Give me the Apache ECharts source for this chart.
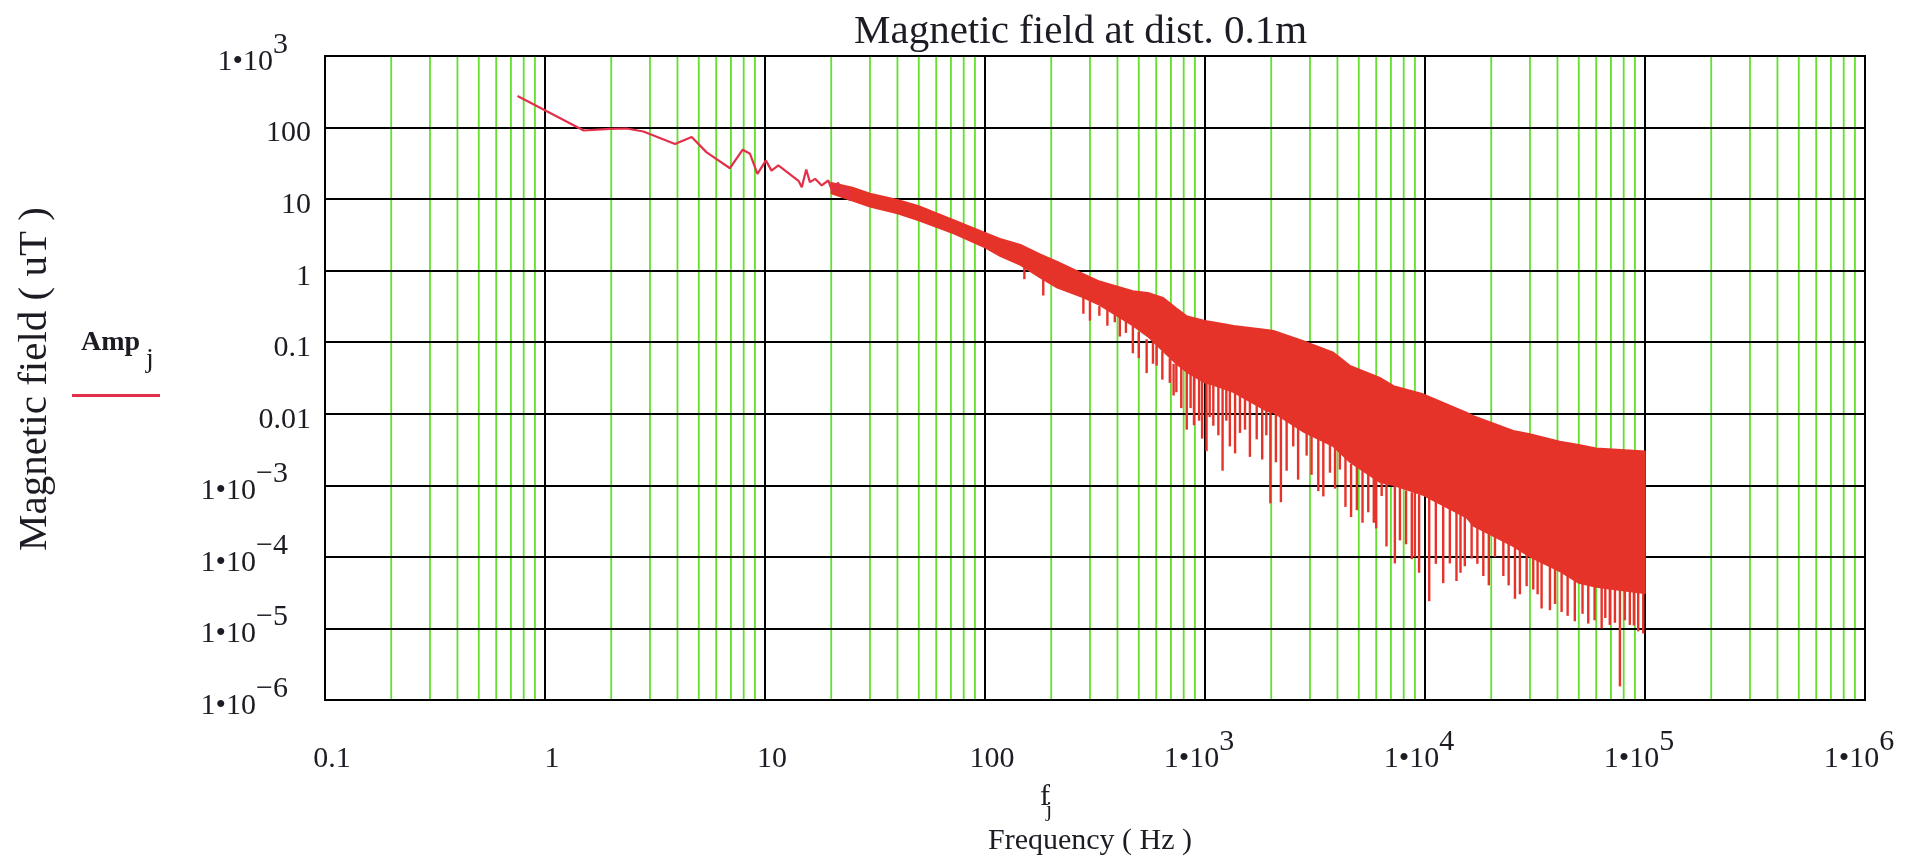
<!DOCTYPE html>
<html>
<head>
<meta charset="utf-8">
<script src="https://cdn.jsdelivr.net/npm/echarts@6/dist/echarts.min.js"></script>
<style>
html,body{margin:0;padding:0;background:#fff;}
#chart{width:1921px;height:861px;}
</style>
</head>
<body>
<div id="chart"></div>
<script>
// ---- tick labels ----
const xTickExp = [-1, 0, 1, 2, 3, 4, 5, 6];
const xTickLabels = [['0.1',''],['1',''],['10',''],['100',''],['1•10','3'],['1•10','4'],['1•10','5'],['1•10','6']];
const yTickExp = [-6, -5, -4, -3, -2, -1, 0, 1, 2, 3];
const yTickLabels = [['1•10','−6'],['1•10','−5'],['1•10','−4'],['1•10','−3'],['0.01',''],['0.1',''],['1',''],['10',''],['100',''],['1•10','3']];
const minorMultipliers = [2, 3, 4, 5, 6, 7, 8, 9];
const minorDecades = [0.1, 1, 10, 100, 1000, 10000, 100000];

// ---- low-frequency trace (Hz, uT) ----
const lowF = [0.75, 1.5, 1.97, 2.35, 2.8, 3.9, 4.64, 5.43, 6.93, 7.92, 8.55, 9.24, 10.1, 10.7, 11.5, 14.2, 14.7, 15.4, 16.0, 16.9, 18.1, 19.4, 20.3, 21.5, 22.5, 23.5, 24.3];
const lowA = [276, 91, 96, 97, 88, 59, 74, 45, 27, 49, 43, 22.5, 34.7, 25, 29.5, 18, 14.7, 25.9, 17.3, 19.2, 15.5, 18.2, 12.5, 17, 11, 15, 9.5];

// ---- dense band: upper and lower envelope (Hz, uT) ----
const bandF   = [20, 25, 30, 40, 50, 72, 100, 117, 145, 178, 212, 280, 332, 470, 550, 645, 740, 830, 1000, 1100, 1350, 1900, 2050, 2800, 3830, 4560, 6240, 7200, 9700, 15500, 16600, 25200, 30000, 41000, 50000, 60000, 100000];
const bandTop = [17, 14.5, 12, 9.8, 8.0, 5.1, 3.4, 2.8, 2.3, 1.7, 1.35, 0.9, 0.71, 0.52, 0.49, 0.42, 0.3, 0.23, 0.2, 0.19, 0.17, 0.15, 0.145, 0.104, 0.072, 0.047, 0.032, 0.0245, 0.019, 0.0104, 0.0093, 0.0058, 0.0052, 0.0041, 0.0037, 0.0033, 0.0030];
const bandBot = [12, 9.5, 7.8, 6.3, 5.0, 3.3, 2.1, 1.6, 1.2, 0.8, 0.58, 0.42, 0.33, 0.17, 0.12, 0.075, 0.05, 0.038, 0.027, 0.025, 0.020, 0.011, 0.0104, 0.0056, 0.0035, 0.0021, 0.0011, 0.0010, 0.00074, 0.00035, 0.00027, 0.00014, 0.00010, 0.000063, 0.000043, 0.000038, 0.000031];

// ---- downward spikes (Hz, from uT, to uT) ----
const spikeF = [
  151, 184, 280, 300, 331, 360, 389, 410, 437, 470,
  500, 543, 580, 603, 640, 692, 720, 741, 780, 826,
  860, 891, 940, 970, 1016, 1050, 1091, 1150, 1202, 1250,
  1297, 1370, 1442, 1520, 1600, 1718, 1820, 1900, 1982, 2100,
  2213, 2350, 2518, 2650, 2897, 3050, 3273, 3450, 3698, 3900,
  4102, 4350, 4613, 4900, 5200, 5521, 5850, 6000, 6353, 6683,
  7295, 7691, 8200, 8710, 8995, 9400, 10450, 11200, 12100, 12970,
  13900, 14500, 15170, 16290, 17300, 18410, 19500, 20800, 22700, 24000,
  25640, 27000, 28970, 31050, 32500, 33880, 36980, 39000, 41780, 44500,
  47970, 52000, 55210, 59000, 63530, 66000, 69180, 73000, 76910, 81000,
  85310, 89000, 93110, 98170];
const spikeHi = [
  1.1, 0.8, 0.45, 0.38, 0.32, 0.3, 0.3, 0.25, 0.2, 0.17,
  0.14, 0.11, 0.1, 0.09, 0.075, 0.06, 0.05, 0.05, 0.045, 0.04,
  0.038, 0.035, 0.032, 0.03, 0.027, 0.026, 0.025, 0.024, 0.023, 0.022,
  0.021, 0.02, 0.019, 0.018, 0.016, 0.015, 0.013, 0.012, 0.012, 0.01,
  0.009, 0.008, 0.007, 0.0065, 0.0055, 0.005, 0.0045, 0.0042, 0.0037, 0.0033,
  0.003, 0.0025, 0.002, 0.0019, 0.0017, 0.0015, 0.0013, 0.0012, 0.0011, 0.0011,
  0.001, 0.001, 0.00085, 0.0008, 0.0008, 0.00075, 0.0007, 0.0006, 0.00055, 0.0005,
  0.00045, 0.00042, 0.0004, 0.0003, 0.00028, 0.00025, 0.00024, 0.00022, 0.00018, 0.00016,
  0.00014, 0.00013, 0.00011, 0.0001, 0.0001, 0.00009, 0.00008, 0.00007, 0.00006, 0.000055,
  0.00005, 0.000045, 0.000042, 0.00004, 0.000038, 0.000037, 0.000037, 0.000036, 0.000035, 0.000034,
  0.000033, 0.000033, 0.000032, 0.000031];
const spikeLo = [
  0.76, 0.45, 0.25, 0.2, 0.234, 0.17, 0.19, 0.12, 0.135, 0.07,
  0.06, 0.037, 0.05, 0.047, 0.03, 0.027, 0.018, 0.020, 0.012, 0.006,
  0.012, 0.0069, 0.008, 0.0045, 0.003, 0.009, 0.0068, 0.005, 0.0016, 0.008,
  0.0035, 0.0028, 0.0054, 0.006, 0.0025, 0.0044, 0.0023, 0.005, 0.00056, 0.0021,
  0.00058, 0.0016, 0.0035, 0.0012, 0.0026, 0.0014, 0.00083, 0.0007, 0.0015, 0.0009,
  0.00166, 0.0005, 0.00036, 0.00045, 0.0003, 0.00042, 0.0003, 0.00025, 0.00071, 0.00014,
  0.000081, 0.00017, 0.00015, 0.000093, 0.0001, 0.00006, 0.000024, 0.00008, 0.000043, 0.000081,
  0.000046, 0.00006, 0.000074, 0.000095, 0.00008, 0.000054, 0.00004, 0.0001, 0.000054, 0.00004,
  0.000026, 0.00003, 0.000039, 0.000035, 0.00003, 0.000019, 0.000018, 0.000022, 0.000017, 0.000015,
  0.0000126, 0.000016, 0.0000117, 0.000013, 0.00001, 0.000014, 0.0000112, 0.000012, 0.00000155, 0.000013,
  0.0000112, 0.000011, 0.0000091, 0.0000085];

const SERIF = "'Liberation Serif','Times New Roman',serif";
const RED = '#e6332a';
const LINE = '#e2304b';
const GREEN = '#62e02c';
const TXT = '#1c1c24';
const X_MIN = 0.1, X_MAX = 1e6, Y_MIN = 1e-6, Y_MAX = 1e3;

const minorX = [];
minorDecades.forEach(d => minorMultipliers.forEach(k => minorX.push(k * d)));

function makeFormatter(exps, labels) {
  return function (v) {
    const e = Math.round(Math.log10(v));
    const i = exps.indexOf(e);
    if (i < 0) return '';
    const m = labels[i][0], s = labels[i][1];
    return s ? '{m2|' + m + '}{s|' + s + '}' : '{m|' + m + '}';
  };
}

const chart = echarts.init(document.getElementById('chart'), null, {renderer: 'canvas'});
chart.setOption({
  backgroundColor: '#ffffff',
  animation: false,
  title: {
    text: 'Magnetic field at dist. 0.1m',
    left: 854, top: 12, padding: 0,
    textStyle: {fontFamily: SERIF, fontSize: 41, fontWeight: 'normal', color: TXT}
  },
  legend: {
    data: [{name: 'Amp', icon: 'rect', itemStyle: {color: LINE}}],
    left: 72, top: 394, padding: 0,
    itemWidth: 88, itemHeight: 3,
    formatter: function () { return ''; },
    selectedMode: false
  },
  grid: {
    left: 325, right: 56, top: 56, bottom: 161,
    show: true, borderColor: '#000', borderWidth: 2
  },
  xAxis: {
    type: 'log', logBase: 10, min: X_MIN, max: X_MAX, z: 2,
    axisLine: {show: true, lineStyle: {color: '#000', width: 2}},
    axisTick: {show: false},
    splitLine: {show: true, lineStyle: {color: '#000', width: 2}},
    axisLabel: {
      show: true, showMinLabel: true, showMaxLabel: true,
      margin: 53, verticalAlign: 'middle',
      formatter: makeFormatter(xTickExp, xTickLabels),
      rich: {
        m:  {fontFamily: SERIF, fontSize: 30, lineHeight: 30, color: TXT, padding: [12, 0, 0, 14]},
        m2: {fontFamily: SERIF, fontSize: 30, lineHeight: 30, color: TXT, padding: [12, 0, 0, 0]},
        s:  {fontFamily: SERIF, fontSize: 30, lineHeight: 30, color: TXT, padding: [0, 12, 22, 0]}
      }
    }
  },
  yAxis: {
    type: 'log', logBase: 10, min: Y_MIN, max: Y_MAX, z: 2,
    axisLine: {show: true, lineStyle: {color: '#000', width: 2}},
    axisTick: {show: false},
    splitLine: {show: true, lineStyle: {color: '#000', width: 2}},
    axisLabel: {
      show: true, showMinLabel: true, showMaxLabel: true,
      margin: 14, verticalAlign: 'middle',
      formatter: makeFormatter(yTickExp, yTickLabels),
      rich: {
        m:  {fontFamily: SERIF, fontSize: 30, lineHeight: 30, color: TXT, padding: [12, 0, 0, 0]},
        m2: {fontFamily: SERIF, fontSize: 30, lineHeight: 30, color: TXT, padding: [12, 0, 0, 0]},
        s:  {fontFamily: SERIF, fontSize: 30, lineHeight: 30, color: TXT, padding: [0, 23, 22, 0]}
      }
    }
  },
  graphic: [
    {type: 'text', x: 35, y: 379, rotation: Math.PI / 2, silent: true,
     style: {text: 'Magnetic field ( uT )', font: '41px ' + SERIF, fill: TXT, align: 'center', verticalAlign: 'middle'}},
    {type: 'text', x: 81, y: 343, silent: true,
     style: {text: '{a|Amp}{j|j}', fill: TXT, align: 'left', verticalAlign: 'middle',
       rich: {a: {fontFamily: SERIF, fontSize: 28, fontWeight: 'bold', lineHeight: 28, fill: TXT},
              j: {fontFamily: SERIF, fontSize: 28, lineHeight: 28, fill: TXT, padding: [34, 0, 0, 6]}}}},
    {type: 'text', x: 1040, y: 797, silent: true,
     style: {text: 'f', font: '30px ' + SERIF, fill: TXT, align: 'left', verticalAlign: 'middle'}},
    {type: 'text', x: 1046, y: 810, silent: true,
     style: {text: 'j', font: '22px ' + SERIF, fill: TXT, align: 'left', verticalAlign: 'middle'}},
    {type: 'text', x: 1090, y: 841, silent: true,
     style: {text: 'Frequency ( Hz )', font: '30px ' + SERIF, fill: TXT, align: 'center', verticalAlign: 'middle'}}
  ],
  series: [
    {
      name: 'minor', type: 'custom', z: 1, silent: true, clip: true,
      data: minorX.map(v => [v]),
      encode: {x: 0},
      renderItem: function (params, api) {
        const a = api.coord([api.value(0), Y_MAX]);
        const b = api.coord([api.value(0), Y_MIN]);
        return {type: 'line', shape: {x1: a[0], y1: a[1], x2: b[0], y2: b[1]},
                style: {stroke: GREEN, lineWidth: 1.8}};
      }
    },
    {
      name: 'band', type: 'custom', z: 3, silent: true, clip: true,
      data: bandF.map((f, i) => [f, bandTop[i], bandBot[i]]),
      encode: {x: 0, y: [1, 2]},
      renderItem: function (params, api) {
        if (params.dataIndex !== 0) return null;
        const pts = [];
        for (let i = 0; i < bandF.length; i++) pts.push(api.coord([bandF[i], bandTop[i]]));
        for (let i = bandF.length - 1; i >= 0; i--) pts.push(api.coord([bandF[i], bandBot[i]]));
        return {type: 'polygon', shape: {points: pts}, style: {fill: RED, stroke: RED, lineWidth: 1.5}};
      }
    },
    {
      name: 'spikes', type: 'custom', z: 3, silent: true, clip: true,
      data: spikeF.map((f, i) => [f, spikeHi[i], spikeLo[i]]),
      encode: {x: 0, y: [1, 2]},
      renderItem: function (params, api) {
        const a = api.coord([api.value(0), api.value(1)]);
        const b = api.coord([api.value(0), api.value(2)]);
        return {type: 'line', shape: {x1: a[0], y1: a[1], x2: b[0], y2: b[1]},
                style: {stroke: RED, lineWidth: 2.4}};
      }
    },
    {
      name: 'Amp', type: 'line', z: 4, silent: true,
      data: lowF.map((f, i) => [f, lowA[i]]),
      showSymbol: false, symbol: 'none',
      itemStyle: {color: LINE},
      lineStyle: {color: LINE, width: 2.2}
    }
  ]
});
</script>
</body>
</html>
